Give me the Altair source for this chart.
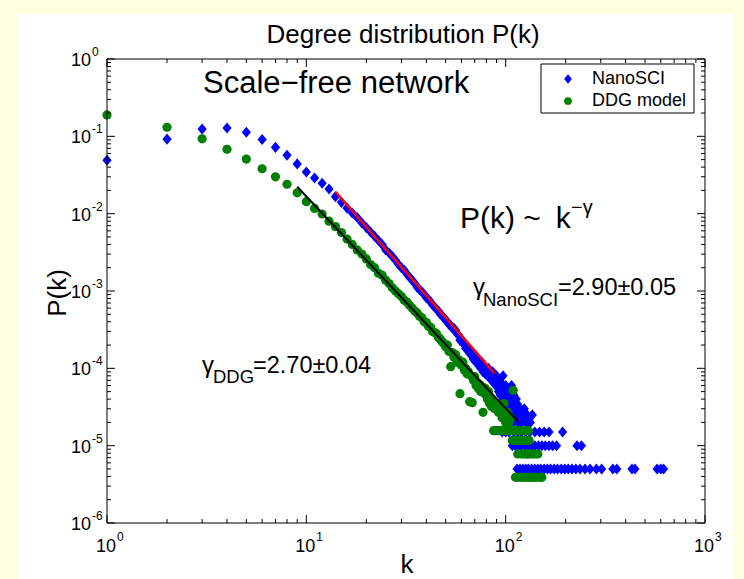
import altair as alt
import pandas as pd

# ---------------- data ----------------
nano_k = list(range(1, 91)) + [91, 92, 93, 94, 95, 96, 97, 98, 99, 100, 101, 102, 103, 104, 105, 106, 107, 108,
                               109, 110, 111, 112, 113, 114, 115, 116, 117, 118, 119, 120, 122, 124, 126, 128,
                               130, 133, 136]
nano_p = [0.049, 0.092, 0.124, 0.128, 0.113, 0.091, 0.072, 0.057, 0.044, 0.0345,
          0.0289, 0.0247, 0.0208, 0.0166, 0.0140, 0.0118, 0.0102, 0.0089, 0.0076, 0.0066,
          0.0058, 0.0051, 0.0045, 0.0040, 0.0034, 0.0031, 0.0028, 0.0025, 0.0022, 0.0020,
          0.00185, 0.00165, 0.00150, 0.00138, 0.00125, 0.00112, 0.00104, 0.00098, 0.00090, 0.00082,
          0.00078, 0.00072, 0.00066, 0.00062, 0.00058, 0.00055, 0.00050, 0.00048, 0.00045, 0.00042,
          0.00040, 0.00037, 0.00036, 0.00033, 3.3e-4, 3.1e-4, 2.8e-4, 2.7e-4, 2.3e-4, 2.4e-4,
          2.2e-4, 2.0e-4, 1.8e-4, 1.9e-4, 1.7e-4, 1.55e-4, 1.7e-4, 1.45e-4, 1.3e-4, 1.5e-4,
          1.2e-4, 1.35e-4, 1.1e-4, 1.15e-4, 1.0e-4, 1.2e-4, 9.0e-5, 1.0e-4, 8.5e-5, 9.5e-5,
          8.0e-5, 1.0e-4, 7.5e-5, 8.5e-5, 7.0e-5, 9.0e-5, 6.5e-5, 7.5e-5, 6.0e-5, 8.0e-5,
          6.0e-5, 5.0e-5, 7.0e-5, 4.5e-5, 6.5e-5, 5.5e-5, 8.0e-5, 4.0e-5, 5.0e-5, 6.0e-5,
          3.5e-5, 4.5e-5, 5.5e-5, 3.0e-5, 4.0e-5, 2.5e-5, 6.0e-5, 3.5e-5, 2.0e-5, 4.5e-5,
          3.0e-5, 2.5e-5, 4.0e-5, 3.5e-5, 2.0e-5, 3.0e-5, 2.5e-5, 2.0e-5, 3.0e-5, 2.0e-5,
          2.5e-5, 3.0e-5, 2.0e-5, 2.5e-5, 2.0e-5, 2.0e-5, 2.5e-5]
nano_row15_k = [96, 100, 104, 110, 115, 120, 126, 132, 140, 148, 156, 165, 193]
nano_row10_k = [108, 112, 116, 120, 125, 130, 135, 140, 146, 152, 158, 165, 172, 180, 228, 240]
nano_row5_k = [114, 118, 122, 126, 130, 135, 140, 145, 150, 156, 162, 168, 175, 182, 190, 198, 206,
               215, 225, 236, 250, 265, 285, 303, 345, 361, 430, 445, 575, 600, 620]
nano_levels = [1.5e-5, 1.0e-5, 5.0e-6]

ddg_k = list(range(1, 111))
ddg_p = [0.189, 0.131, 0.093, 0.068, 0.0508, 0.0381, 0.030, 0.0240, 0.0186, 0.0143,
         0.0117, 0.0099, 0.0080, 0.0068, 0.0057, 0.0047, 0.0040, 0.0034, 0.0030, 0.0026,
         0.0022, 0.0020, 0.0017, 0.0016, 0.00138, 0.00125, 0.00110, 0.00100, 0.00092, 0.00085,
         0.00076, 0.00072, 0.00065, 0.00060, 0.00055, 0.00052, 0.00047, 0.00045, 0.00040, 0.00039,
         0.00035, 0.00034, 0.00030, 0.00029, 0.00028, 0.00025, 0.00024, 0.00022, 0.00021, 0.00019,
         0.00020, 0.000165, 0.000105, 0.00016, 0.00014, 0.00015, 0.00012, 0.00013, 0.000047, 0.00011,
         0.00012, 0.000095, 0.00010, 0.000085, 0.00009, 0.000037, 0.000080, 0.000036, 0.000070, 0.000078,
         0.000060, 0.000065, 0.000055, 0.000062, 0.000050, 0.000058, 0.000027, 0.000048, 0.000055, 0.000045,
         0.000040, 0.000050, 0.000035, 0.000042, 0.000032, 0.000038, 1.56e-5, 0.000030, 1.56e-5, 0.000035,
         1.56e-5, 2.7e-5, 1.56e-5, 3.1e-5, 1.56e-5, 2.3e-5, 1.56e-5, 3.5e-5, 1.56e-5, 2.0e-5,
         1.56e-5, 2.7e-5, 1.56e-5, 1.95e-5, 1.56e-5, 2.3e-5, 1.56e-5, 1.17e-5, 5.2e-5, 1.56e-5]
ddg_row156_k = [113, 118, 125, 130]
ddg_row117_k = [111, 114, 117, 121, 124, 128, 131]
ddg_row78_k = [115, 120, 123, 127, 129, 132, 136, 140, 145]
ddg_row39_k = [112, 116, 119, 122, 126, 130, 134, 138, 142, 148, 152]
ddg_levels = [1.56e-5, 1.17e-5, 7.8e-6, 3.9e-6]

fit_nano_k = [14, 88]
fit_nano_p = [0.0192, 8.6e-5]
fit_ddg_k = [9, 116]
fit_ddg_p = [0.0223, 2.03e-5]

series_names = ["NanoSCI", "DDG model"]
x_major = [1, 10, 100, 1000]
x_exp = ["0", "1", "2", "3"]
y_major = [1, 1e-1, 1e-2, 1e-3, 1e-4, 1e-5, 1e-6]
y_exp = ["0", "-1", "-2", "-3", "-4", "-5", "-6"]
minor_mult = [2, 3, 4, 5, 6, 7, 8, 9]

# ---------------- tables ----------------
nk = nano_k + nano_row15_k + nano_row10_k + nano_row5_k
npv = nano_p + [nano_levels[0]] * len(nano_row15_k) + [nano_levels[1]] * len(nano_row10_k) \
      + [nano_levels[2]] * len(nano_row5_k)
df_nano = pd.DataFrame({"k": nk, "P": npv})

dk = ddg_k + ddg_row156_k + ddg_row117_k + ddg_row78_k + ddg_row39_k
dp = ddg_p + [ddg_levels[0]] * len(ddg_row156_k) + [ddg_levels[1]] * len(ddg_row117_k) \
     + [ddg_levels[2]] * len(ddg_row78_k) + [ddg_levels[3]] * len(ddg_row39_k)
df_ddg = pd.DataFrame({"k": dk, "P": dp})

df_fit_nano = pd.DataFrame({"k": fit_nano_k, "P": fit_nano_p})
df_fit_ddg = pd.DataFrame({"k": fit_ddg_k, "P": fit_ddg_p})

x_minor = [m * 10 ** e for e in range(0, 3) for m in minor_mult]
y_minor = [m * 10.0 ** e for e in range(-6, 0) for m in minor_mult]
df_xmaj = pd.DataFrame({"k": x_major, "e": x_exp})
df_ymaj = pd.DataFrame({"P": y_major, "e": y_exp})
df_xmin = pd.DataFrame({"k": x_minor})
df_ymin = pd.DataFrame({"P": y_minor})

W, H = 598, 464
FONT = "Liberation Sans"
DIAMOND = "M0,-1.2L1,0L0,1.2L-1,0Z"
BLUE, GREEN = "#0000ff", "#008000"

xs = alt.Scale(type="log", domain=[1, 1000], nice=False)
ys = alt.Scale(type="log", domain=[1e-6, 1], nice=False)
X = alt.X("k:Q", scale=xs, axis=None)
Y = alt.Y("P:Q", scale=ys, axis=None)

one = pd.DataFrame({"a": [0]})

bg = alt.Chart(one).mark_rect(color="white").encode(
    x=alt.value(17 - 107), x2=alt.value(733 - 107), y=alt.value(14 - 59), y2=alt.value(579 - 59))

blue = alt.Chart(df_nano).mark_point(shape=DIAMOND, filled=True, color=BLUE, size=85, opacity=1).encode(x=X, y=Y)
green = alt.Chart(df_ddg).mark_point(shape="circle", filled=True, color=GREEN, size=85, opacity=1).encode(x=X, y=Y)
red_line = alt.Chart(df_fit_nano).mark_line(color="#ff0000", strokeWidth=2.5).encode(x=X, y=Y)
black_line = alt.Chart(df_fit_ddg).mark_line(color="black", strokeWidth=2).encode(x=X, y=Y)

def xticks(df, length):
    b = alt.Chart(df).mark_rule(color="black", strokeWidth=1).encode(
        x=X, y=alt.value(H), y2=alt.value(H - length))
    t = alt.Chart(df).mark_rule(color="black", strokeWidth=1).encode(
        x=X, y=alt.value(0), y2=alt.value(length))
    return b + t

def yticks(df, length):
    l = alt.Chart(df).mark_rule(color="black", strokeWidth=1).encode(
        y=Y, x=alt.value(0), x2=alt.value(length))
    r = alt.Chart(df).mark_rule(color="black", strokeWidth=1).encode(
        y=Y, x=alt.value(W), x2=alt.value(W - length))
    return l + r

ticks = xticks(df_xmaj, 8) + xticks(df_xmin, 4) + yticks(df_ymaj, 8) + yticks(df_ymin, 4)

frame = alt.Chart(one).mark_rect(fillOpacity=0, stroke="black", strokeWidth=1).encode(
    x=alt.value(0), x2=alt.value(W), y=alt.value(0), y2=alt.value(H))

xlab = alt.Chart(df_xmaj).mark_text(text="10", font=FONT, fontSize=18, align="right", dx=9,
                                    baseline="alphabetic", color="black").encode(x=X, y=alt.value(H + 29))
xsup = alt.Chart(df_xmaj).mark_text(font=FONT, fontSize=12, align="left", dx=10,
                                    baseline="alphabetic", color="black").encode(
    x=X, y=alt.value(H + 18), text="e:N")
ylab = alt.Chart(df_ymaj).mark_text(text="10", font=FONT, fontSize=18, align="right",
                                    baseline="alphabetic", dy=7, color="black").encode(y=Y, x=alt.value(-16))
ysup = alt.Chart(df_ymaj).mark_text(font=FONT, fontSize=12, align="left",
                                    baseline="alphabetic", dy=-3, color="black").encode(
    y=Y, x=alt.value(-15), text="e:N")

def label(txt, x, y, size, align="left", angle=0, baseline="alphabetic"):
    return alt.Chart(one).mark_text(text=txt, font=FONT, fontSize=size, align=align, angle=angle,
                                    baseline=baseline, color="black").encode(
        x=alt.value(x), y=alt.value(y))

texts = (
    label("Degree distribution P(k)", W / 2 - 3, -16, 26, align="center")
    + label("k", 300, 514, 26, align="center")
    + label("P(k)", -41, 234, 26, align="center", angle=270)
    + label("Scale\u2212free network", 96, 34, 31)
    + label("P(k) ~\u2002k", 353, 169, 30)
    + label("\u2212\u03b3", 464, 155, 20)
    + label("\u03b3", 366, 236, 24)
    + label("NanoSCI", 376, 247, 18.5)
    + label("=2.90\u00b10.05", 451, 236, 23.5)
    + label("\u03b3", 95, 314, 24)
    + label("DDG", 106, 324, 18.5)
    + label("=2.70\u00b10.04", 146, 314, 23.5)
)

# legend
leg_box = alt.Chart(one).mark_rect(fill="white", stroke="black", strokeWidth=1).encode(
    x=alt.value(434), x2=alt.value(587), y=alt.value(5), y2=alt.value(54))
leg_sym1 = alt.Chart(one).mark_point(shape=DIAMOND, filled=True, color=BLUE, size=60, opacity=1).encode(
    x=alt.value(461), y=alt.value(20))
leg_sym2 = alt.Chart(one).mark_point(shape="circle", filled=True, color=GREEN, size=60, opacity=1).encode(
    x=alt.value(461), y=alt.value(42))
legend = (leg_box + leg_sym1 + leg_sym2
          + label(series_names[0], 485, 20, 18, baseline="middle")
          + label(series_names[1], 485, 42, 18, baseline="middle"))

chart = alt.layer(
    bg, blue, green, red_line, black_line, ticks, frame, xlab, xsup, ylab, ysup, texts, legend
).properties(
    width=W, height=H, background="#ffffe0",
    padding={"left": 107, "top": 59, "right": 744 - 107 - W, "bottom": 579 - 59 - H},
    autosize=alt.AutoSizeParams(type="none"),
).configure_view(strokeWidth=0)

chart.save("out.html", embed_options={"renderer": "svg", "actions": False})
